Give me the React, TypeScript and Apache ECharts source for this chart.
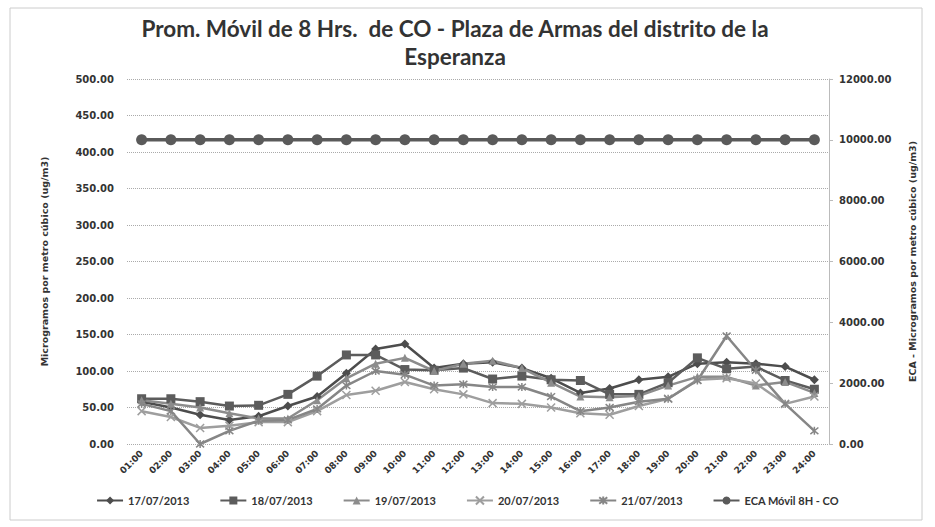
import React, { useEffect, useRef } from "react";
import * as echarts from "echarts";

const hours = ["01:00","02:00","03:00","04:00","05:00","06:00","07:00","08:00","09:00","10:00","11:00","12:00","13:00","14:00","15:00","16:00","17:00","18:00","19:00","20:00","21:00","22:00","23:00","24:00"];

const d1707 = [58, 50, 40, 33, 38, 52, 65, 97, 130, 137, 104, 110, 112, 104, 90, 70, 76, 88, 92, 110, 112, 110, 106, 88];
const d1807 = [62, 62, 58, 52, 53, 68, 93, 122, 122, 102, 101, 104, 89, 93, 88, 87, 68, 68, 84, 118, 103, 106, 87, 75];
const d1907 = [60, 55, 50, 42, 35, 35, 60, 90, 110, 118, 100, 110, 114, 104, 84, 65, 64, 66, 80, 92, 92, 80, 85, 70];
const d2007 = [45, 37, 22, 25, 30, 30, 45, 67, 73, 85, 75, 68, 56, 55, 50, 42, 40, 52, 62, 88, 90, 83, 55, 65];
const d2107 = [55, 45, 0, 18, 32, 33, 48, 80, 100, 95, 80, 82, 78, 78, 65, 45, 50, 58, 62, 87, 148, 101, 55, 18];
const eca = [10000, 10000, 10000, 10000, 10000, 10000, 10000, 10000, 10000, 10000, 10000, 10000, 10000, 10000, 10000, 10000, 10000, 10000, 10000, 10000, 10000, 10000, 10000, 10000];

const seriesNames = ["17/07/2013", "18/07/2013", "19/07/2013", "20/07/2013", "21/07/2013", "ECA Móvil 8H - CO"];

const titleLine1 = "Prom. Móvil de 8 Hrs.  de CO - Plaza de Armas del distrito de la";
const titleLine2 = "Esperanza";
const leftName = "Microgramos por metro cúbico (ug/m3)";
const rightName = "ECA - Microgramos por metro cúbico (ug/m3)";

const X_SYM = "path://M0 0L10 10M10 0L0 10";
const STAR_SYM = "path://M0 0L10 10M10 0L0 10M5 -1L5 11";

export default function App() {
  const ref = useRef<HTMLDivElement>(null);
  useEffect(() => {
    document.body.style.margin = "0";
    const chart = echarts.init(ref.current!, null, { renderer: "svg" });
    const lab = { fontFamily: "DejaVu Sans", fontWeight: "bold" as const, fontSize: 10, color: "#333" };
    const titleStyle = { fontFamily: "Lato", fontWeight: "bold" as const, fontSize: 22.5, color: "#333" };
    const mk = (name: string, data: number[], color: string, symbol: string, size: number, stroke = false, yAxisIndex = 0, width = 2.5) => ({
      name,
      type: "line",
      yAxisIndex,
      data,
      symbol,
      symbolSize: size,
      showSymbol: true,
      lineStyle: { color, width },
      itemStyle: stroke
        ? { color, borderColor: color, borderWidth: 1.5 }
        : { color, borderColor: color, borderWidth: 0 },
      z: yAxisIndex === 1 ? 3 : 2,
    });
    chart.setOption({
      animation: false,
      backgroundColor: "#fff",
      title: [
        { text: titleLine1, left: 455, textAlign: "center", top: 17, padding: 0, textStyle: titleStyle },
        { text: titleLine2, left: 455, textAlign: "center", top: 45, padding: 0, textStyle: titleStyle },
      ],
      graphic: [
        {
          type: "rect",
          shape: { x: 10, y: 8, width: 912, height: 512 },
          style: { fill: "none", stroke: "#ccc", lineWidth: 1 },
          silent: true,
        },
      ],
      legend: {
        bottom: 16,
        left: "center",
        itemWidth: 26,
        itemHeight: 10,
        itemGap: 30,
        textStyle: { fontFamily: "Lato", fontWeight: "bold", fontSize: 11, color: "#333" },
        data: seriesNames,
      },
      grid: { left: 127, right: 106, top: 79, bottom: 83, containLabel: false },
      xAxis: {
        type: "category",
        data: hours,
        boundaryGap: true,
        axisLine: { show: false },
        axisTick: { show: false },
        axisLabel: { ...lab, fontSize: 9, rotate: 45, margin: 8, interval: 0 },
      },
      yAxis: [
        {
          type: "value",
          min: 0,
          max: 500,
          interval: 50,
          name: leftName,
          nameLocation: "middle",
          nameGap: 78,
          nameRotate: 90,
          nameTextStyle: { ...lab, fontSize: 9.5 },
          axisLine: { show: false },
          axisTick: { show: false },
          axisLabel: { ...lab, margin: 13, formatter: (v: number) => v.toFixed(2) },
          splitLine: { show: true, lineStyle: { color: "#aaa", type: [1, 1], width: 1 } },
        },
        {
          type: "value",
          min: 0,
          max: 12000,
          interval: 2000,
          position: "right",
          name: rightName,
          nameLocation: "middle",
          nameGap: 78,
          nameRotate: 90,
          nameTextStyle: { ...lab, fontSize: 9.5 },
          axisLine: { show: true, lineStyle: { color: "#bbb", width: 1 } },
          axisTick: { show: true, length: 4, lineStyle: { color: "#bbb" } },
          axisLabel: { ...lab, margin: 10, formatter: (v: number) => v.toFixed(2) },
          splitLine: { show: false },
        },
      ],
      series: [
        mk(seriesNames[0], d1707, "#4d4d4d", "diamond", 9),
        mk(seriesNames[1], d1807, "#5c5c5c", "rect", 9),
        mk(seriesNames[2], d1907, "#8c8c8c", "triangle", 8),
        mk(seriesNames[3], d2007, "#9e9e9e", X_SYM, 8, true),
        mk(seriesNames[4], d2107, "#868686", STAR_SYM, 8, true),
        mk(seriesNames[5], eca, "#5a5a5a", "circle", 11, false, 1, 3.5),
      ],
    });
    return () => chart.dispose();
  }, []);
  return <div ref={ref} style={{ width: 935, height: 527 }} />;
}
